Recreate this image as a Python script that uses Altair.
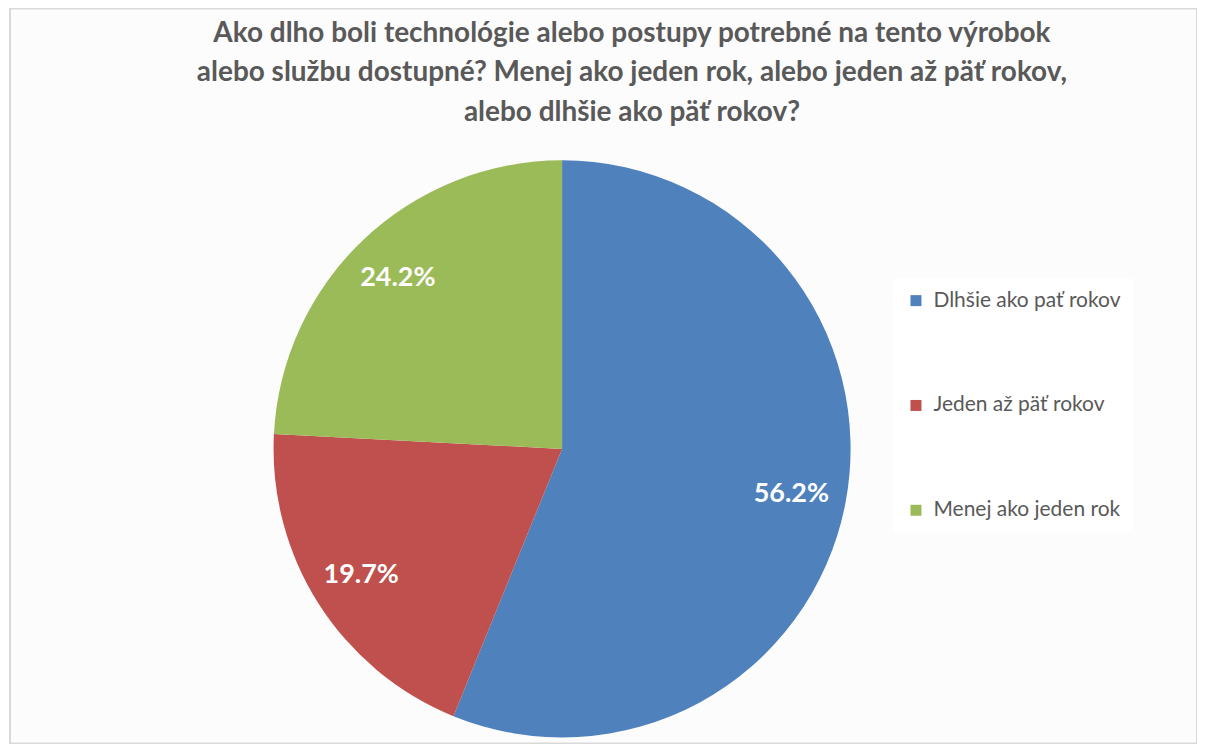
import altair as alt
import pandas as pd

categories = ["Dlhšie ako pať rokov", "Jeden až päť rokov", "Menej ako jeden rok"]
values = [56.2, 19.7, 24.2]
labels = ["56.2%", "19.7%", "24.2%"]
colors = ["#4F81BD", "#C0504D", "#9BBB59"]
title_lines = [
    "Ako dlho boli technológie alebo postupy potrebné na tento výrobok",
    "alebo službu dostupné? Menej ako jeden rok, alebo jeden až päť rokov,",
    "alebo dlhšie ako päť rokov?",
]

df = pd.DataFrame({"cat": categories, "val": values, "label": labels, "order": [0, 1, 2]})
tdf = pd.DataFrame({"t": ["\n".join(title_lines)]})

base = alt.Chart(df).encode(
    theta=alt.Theta("val:Q", stack=True),
    order=alt.Order("order:Q"),
)

pie = base.mark_arc(radius=289).encode(
    x=alt.value(553),
    y=alt.value(441),
    color=alt.Color(
        "cat:N",
        scale=alt.Scale(domain=categories, range=colors),
        legend=alt.Legend(
            title=None,
            orient="none",
            legendX=885,
            legendY=270,
            symbolType="square",
            symbolSize=121,
            symbolStrokeWidth=0,
            labelFontSize=21,
            labelFont="Lato",
            labelColor="#595959",
            labelLimit=300,
            labelOffset=7,
            rowPadding=83,
            padding=12,
            fillColor="white",
        ),
    ),
)

text = base.mark_text(
    radius=236, font="Lato", fontSize=27, fontWeight="bold", color="white"
).encode(x=alt.value(551), y=alt.value(441), text="label:N")

title = alt.Chart(tdf).mark_text(
    lineBreak="\n", lineHeight=40, font="Lato", fontSize=28, fontWeight="bold",
    color="#595959", align="center", baseline="top",
).encode(text="t:N", x=alt.value(623), y=alt.value(11))

chart = alt.layer(pie, text, title).properties(
    width=1189,
    height=736,
    autosize="none",
    padding={"left": 2, "top": 0, "right": 0, "bottom": 0},
    background="white",
).configure_view(stroke="#d9d9d9", strokeWidth=2, fill="#fcfcfc")

chart.save("out.html", embed_options={"renderer": "svg", "actions": False})
